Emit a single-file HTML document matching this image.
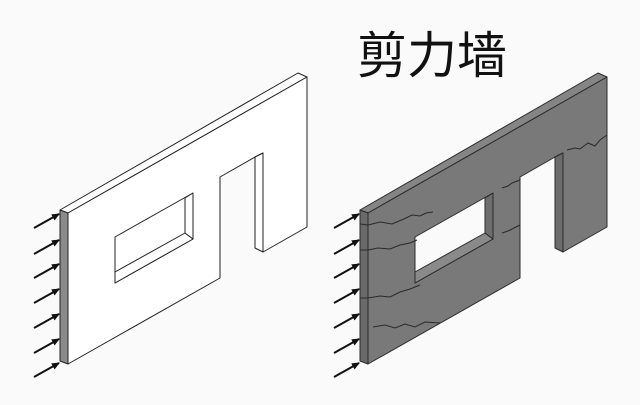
<!DOCTYPE html>
<html><head><meta charset="utf-8"><style>
html,body{margin:0;padding:0;background:#fafafa;}
svg{display:block}
</style></head><body>
<svg width="640" height="405" viewBox="0 0 640 405" xmlns="http://www.w3.org/2000/svg">
<defs>
<marker id="ah" markerWidth="8" markerHeight="8" refX="7" refY="4" orient="auto" markerUnits="userSpaceOnUse">
<path d="M0,0.5 L8,4 L0,7.5 Z" fill="#111"/>
</marker>
</defs>
<rect width="640" height="405" fill="#fafafa"/>
<text x="357" y="73" font-family="'Liberation Sans','Noto Sans CJK SC',sans-serif" font-size="50" fill="#111">剪力墙</text>

<!-- LEFT WALL -->
<g stroke="#222" stroke-width="1" stroke-linejoin="round" fill="#fff">
<polygon points="60,210 298,73 307,77 68,213"/>
<polygon points="60,210 68,213 68,364 60,361" fill="#8a8a8a"/>
<polygon points="68,213 307,77 307,227 263,252 263,153 255,157 220,177 220,278 68,364"/>
<polygon points="255,157 263,153 263,252 255,248" fill="#fff"/>
<polygon points="115,237 193,193 193,239 115,283" fill="#fff"/>
<polygon points="115,272 185,233 193,239 115,283" fill="#fff"/>
<polygon points="185,198 193,193 193,239 185,233" fill="#fff"/>
</g>
<g stroke="#111" stroke-width="2" marker-end="url(#ah)">
<line x1="34" y1="228" x2="59" y2="214"/>
<line x1="34" y1="254" x2="59" y2="240"/>
<line x1="34" y1="278" x2="59" y2="264"/>
<line x1="34" y1="303" x2="59" y2="289"/>
<line x1="34" y1="328" x2="59" y2="314"/>
<line x1="34" y1="353" x2="59" y2="339"/>
<line x1="34" y1="377" x2="59" y2="363"/>
</g>

<!-- RIGHT WALL -->
<g transform="translate(300,0)" stroke="#2a2a2a" stroke-width="1" stroke-linejoin="round" fill="#797979">
<polygon points="60,210 298,73 307,77 68,213" fill="#858585"/>
<polygon points="60,210 68,213 68,364 60,361" fill="#6a6a6a"/>
<polygon points="68,213 307,77 307,227 263,252 263,153 255,157 220,177 220,278 68,364"/>
<polygon points="255,157 263,153 263,252 255,248" fill="#6c6c6c"/>
<polygon points="115,237 193,193 193,239 115,283" fill="#fafafa"/>
<polygon points="115,272 185,233 193,239 115,283" fill="#8a8a8a"/>
<polygon points="185,198 193,193 193,239 185,233" fill="#6e6e6e"/>
</g>
<g fill="none" stroke="#2a2a2a" stroke-width="1">
<polyline points="368,225 380,222 392,224 404,219 412,215 420,216 426,213 433,212"/>
<polyline points="360,224 368,225"/>
<polyline points="368,250 378,248 390,249 400,245 410,243 417,240"/>
<polyline points="360,250 368,250"/>
<polyline points="368,298 380,296 390,297 400,292 410,289 420,285"/>
<polyline points="360,298 368,298"/>
<polyline points="373,327 385,325 395,328 405,324 415,327 425,322 440,323"/>
<polyline points="502,233 508,231 512,229 520,225"/>
<polyline points="502,188 508,186 512,183 520,180"/>
<polyline points="567,150 575,148 580,149 588,143 595,146 600,140 607,135"/>
</g>
<g stroke="#111" stroke-width="2" marker-end="url(#ah)">
<line x1="334" y1="228" x2="359" y2="214"/>
<line x1="334" y1="254" x2="359" y2="240"/>
<line x1="334" y1="278" x2="359" y2="264"/>
<line x1="334" y1="303" x2="359" y2="289"/>
<line x1="334" y1="328" x2="359" y2="314"/>
<line x1="334" y1="353" x2="359" y2="339"/>
<line x1="334" y1="377" x2="359" y2="363"/>
</g>
</svg>
</body></html>
